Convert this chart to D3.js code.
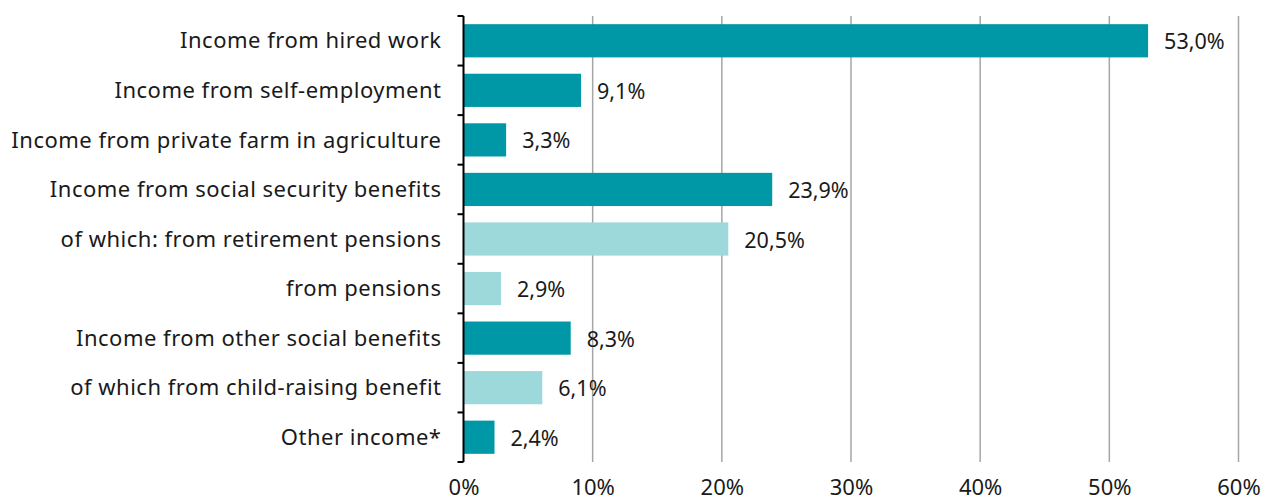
<!DOCTYPE html>
<html><head><meta charset="utf-8">
<script src="https://cdn.jsdelivr.net/npm/d3@7"></script>
<style>body{margin:0;background:#fff}svg{display:block}text{font-family:"Noto Sans",sans-serif;fill:#1a1a1a}</style>
</head><body><svg id="c" width="1263" height="501"></svg>
<script>
const categories = ["Income from hired work","Income from self-employment","Income from private farm in agriculture","Income from social security benefits","of which: from retirement pensions","from pensions","Income from other social benefits","of which from child-raising benefit","Other income*"];
const values = [53.0, 9.1, 3.3, 23.9, 20.5, 2.9, 8.3, 6.1, 2.4];
const subItem = [false,false,false,false,true,true,false,true,false];
const xTicks = [0,10,20,30,40,50,60];

const svg = d3.select("#c");
const x = d3.scaleLinear().domain([0,60]).range([463.5,1238.5]);
const y = d3.scaleBand().domain(categories).range([16,462]).paddingInner(0.33).paddingOuter(0.165);
const fmt = v => v.toFixed(1).replace(".",",") + "%";

// grid
svg.append("g").selectAll("line").data(xTicks.slice(1)).join("line")
  .attr("x1",d=>x(d)).attr("x2",d=>x(d)).attr("y1",16).attr("y2",462)
  .attr("stroke","#a6a6a6").attr("stroke-width",1.5);

// bars
svg.append("g").selectAll("rect").data(categories).join("rect")
  .attr("x",x(0)).attr("y",d=>y(d)).attr("height",y.bandwidth())
  .attr("width",(d,i)=>x(values[i])-x(0))
  .attr("fill",(d,i)=>subItem[i]?"#9dd8db":"#0098a6");

// value labels
svg.append("g").selectAll("text").data(categories).join("text")
  .attr("x",(d,i)=>x(values[i])+16).attr("y",d=>y(d)+y.bandwidth()/2+1)
  .attr("dy","0.35em").attr("font-size",21.5).text((d,i)=>fmt(values[i]));

// y axis
const yAxisScale = d3.scaleBand().domain(categories).range([16,462]);
const ga = svg.append("g").attr("transform","translate(463.5,0)");
ga.append("line").attr("x1",0).attr("x2",0).attr("y1",16).attr("y2",462).attr("stroke","#000").attr("stroke-width",2);
const bounds = categories.map(c=>yAxisScale(c)).concat([462]);
ga.selectAll("line.t").data(bounds).join("line").attr("class","t")
  .attr("x1",-6).attr("x2",0).attr("y1",d=>d).attr("y2",d=>d).attr("stroke","#000").attr("stroke-width",2);
ga.selectAll("text").data(categories).join("text")
  .attr("x",-22).attr("y",d=>y(d)+y.bandwidth()/2).attr("dy","0.35em")
  .attr("text-anchor","end").attr("font-size",22).attr("letter-spacing",0.5).text(d=>d);

// x axis labels
const gx = svg.append("g").attr("transform","translate(0,462)");
gx.call(d3.axisBottom(x).tickValues(xTicks).tickSize(0).tickPadding(0).tickFormat(d=>d+"%"))
  .call(g=>g.select(".domain").remove())
  .call(g=>g.selectAll("text").attr("font-size",22).attr("y",17).attr("dy","0.71em").style("font-family",'"Noto Sans",sans-serif').attr("fill","#1a1a1a"));
</script></body></html>
